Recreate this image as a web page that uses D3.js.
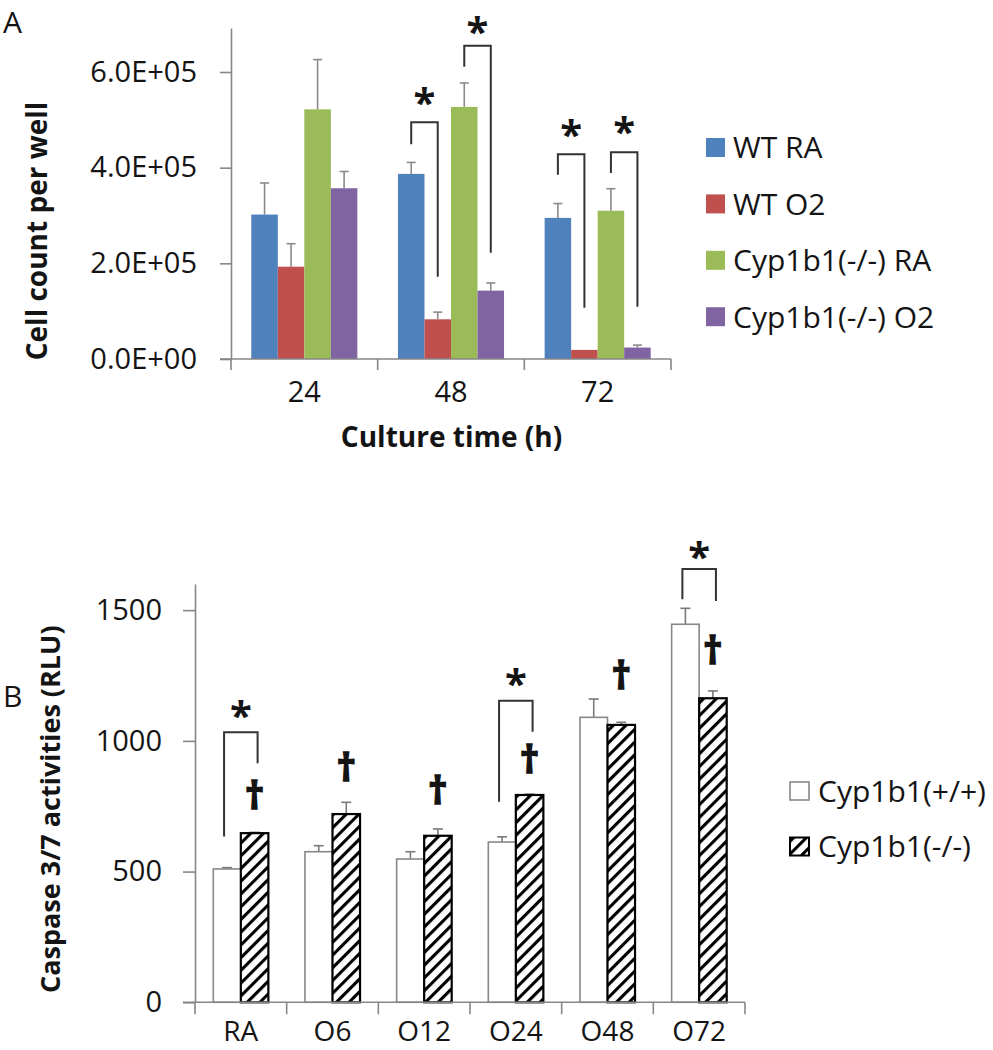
<!DOCTYPE html>
<html><head><meta charset="utf-8">
<script src="https://cdn.jsdelivr.net/npm/d3@7"></script>
<style>
body{margin:0;background:#fff}
svg{display:block}
text{font-family:"Open Sans",sans-serif;fill:#141414}
</style>
</head><body>
<svg id="c" width="993" height="1050"></svg>
<script>
// ---------- Panel A data ----------
const timesA = ["24", "48", "72"];
const seriesA = ["WT RA", "WT O2", "Cyp1b1(-/-) RA", "Cyp1b1(-/-) O2"];
const wtRA = [3.02e5, 3.87e5, 2.95e5];
const wtRAerr = [0.66e5, 0.24e5, 0.30e5];
const wtO2 = [1.93e5, 0.83e5, 0.19e5];
const wtO2err = [0.48e5, 0.15e5, 0.0];
const koRA = [5.22e5, 5.27e5, 3.10e5];
const koRAerr = [1.04e5, 0.50e5, 0.46e5];
const koO2 = [3.57e5, 1.43e5, 0.24e5];
const koO2err = [0.35e5, 0.16e5, 0.05e5];
const ticksA = [0, 2e5, 4e5, 6e5];
const tickLabelsA = ["0.0E+00", "2.0E+05", "4.0E+05", "6.0E+05"];
const colorsA = ["#4F81BD", "#C0504D", "#9BBB59", "#8064A2"];
// significance brackets (category, left series, right series, top, left leg end, right leg end, star level)
const bracketCatA = ["48", "48", "72", "72"];
const bracketLeftA = [0, 2, 0, 2];
const bracketRightA = [1, 3, 1, 3];
const bracketTopA = [4.95e5, 6.55e5, 4.28e5, 4.32e5];
const bracketLeftEndA = [4.49e5, 6.11e5, 3.85e5, 3.89e5];
const bracketRightEndA = [1.72e5, 2.22e5, 1.07e5, 1.09e5];
const starLevelA = [5.45e5, 6.94e5, 4.79e5, 4.85e5];

// ---------- Panel B data ----------
const groupsB = ["RA", "O6", "O12", "O24", "O48", "O72"];
const seriesB = ["Cyp1b1(+/+)", "Cyp1b1(-/-)"];
const wtB = [510, 576, 548, 613, 1090, 1446];
const wtBerr = [5, 23, 28, 20, 70, 61];
const koB = [647, 720, 637, 793, 1061, 1163];
const koBerr = [3, 45, 26, 3, 10, 28];
const ticksB = [0, 500, 1000, 1500];
const tickLabelsB = ["0", "500", "1000", "1500"];
const bracketCatB = ["RA", "O24", "O72"];
const bracketTopB = [1033, 1153, 1657];
const bracketLeftEndB = [634, 767, 1542];
const bracketRightEndB = [914, 1035, 1535];
const starLevelB = [1116, 1236, 1724];
const daggerLevelB = [782, 889, 801, 921, 1240, 1335];

const svg = d3.select("#c");
const AX = "#868686";

// ---------- Panel A ----------
{
  const yA = d3.scaleLinear().domain([0, 6.92e5]).range([359, 28]);
  const x0 = d3.scaleBand().domain(timesA).range([231, 671]).padding(0);
  const bw = x0.bandwidth();
  const x1 = d3.scaleBand().domain(d3.range(4)).range([20.3, bw - 20.3]).padding(0);
  const vals = [wtRA, wtO2, koRA, koO2];
  const errs = [wtRAerr, wtO2err, koRAerr, koO2err];
  const g = svg.append("g");

  const bars = [];
  timesA.forEach((t, i) => vals.forEach((v, s) => bars.push({t, s, v: v[i], e: errs[s][i]})));

  const eb = g.append("g").attr("stroke", "#8a8a8a").attr("stroke-width", 1.6);
  bars.filter(d => d.e > 0).forEach(d => {
    const cx = x0(d.t) + x1(d.s) + x1.bandwidth() / 2;
    eb.append("line").attr("x1", cx).attr("x2", cx).attr("y1", yA(d.v)).attr("y2", yA(d.v + d.e));
    eb.append("line").attr("x1", cx - 4.5).attr("x2", cx + 4.5).attr("y1", yA(d.v + d.e)).attr("y2", yA(d.v + d.e));
  });
  g.append("g").selectAll("rect").data(bars).join("rect")
    .attr("x", d => x0(d.t) + x1(d.s))
    .attr("width", x1.bandwidth())
    .attr("y", d => yA(d.v))
    .attr("height", d => yA(0) - yA(d.v))
    .attr("fill", d => colorsA[d.s]);

  const ya = g.append("g").attr("transform", "translate(231,0)")
    .call(d3.axisLeft(yA).tickValues(ticksA).tickFormat((d, i) => tickLabelsA[i]).tickSize(11).tickPadding(23).tickSizeOuter(0));
  ya.selectAll("path,line").attr("stroke", AX).attr("stroke-width", 1.6);
  ya.selectAll("text").attr("font-size", 29).attr("font-family", "Open Sans").attr("fill", "#141414");

  const xa = g.append("g").attr("transform", "translate(0,359)")
    .call(d3.axisBottom(x0).tickSize(0).tickPadding(22));
  xa.select(".domain").remove();
  xa.selectAll("text").attr("font-size", 29).attr("font-family", "Open Sans").attr("fill", "#141414");
  g.append("line").attr("x1", 220).attr("x2", x0.range()[1]).attr("y1", yA(0)).attr("y2", yA(0)).attr("stroke", AX).attr("stroke-width", 1.6);
  const bounds = timesA.map(t => x0(t)).concat([x0.range()[1]]);
  g.append("g").selectAll("line").data(bounds).join("line")
    .attr("x1", d => d).attr("x2", d => d).attr("y1", yA(0)).attr("y2", yA(0) + 11)
    .attr("stroke", AX).attr("stroke-width", 1.6);

  const br = g.append("g").attr("stroke", "#333").attr("stroke-width", 2).attr("fill", "none");
  bracketCatA.forEach((c, i) => {
    const xl = x0(c) + x1(bracketLeftA[i]) + x1.bandwidth() / 2;
    const xr = x0(c) + x1(bracketRightA[i]) + x1.bandwidth() / 2;
    br.append("path").attr("d", `M${xl},${yA(bracketLeftEndA[i])}V${yA(bracketTopA[i])}H${xr}V${yA(bracketRightEndA[i])}`);
    g.append("text").attr("x", (xl + xr) / 2).attr("y", yA(starLevelA[i]) + 19)
      .attr("text-anchor", "middle").attr("font-size", 40).attr("font-weight", "bold").text("*");
  });

  g.append("text").attr("transform", "translate(47,231) rotate(-90)").attr("text-anchor", "middle")
    .attr("font-size", 28).attr("font-weight", "bold").text("Cell count per well");
  g.append("text").attr("x", 451.5).attr("y", 447).attr("text-anchor", "middle")
    .attr("font-size", 28).attr("font-weight", "bold").text("Culture time (h)");

  const lg = g.append("g");
  seriesA.forEach((s, i) => {
    const cy = 147.5 + i * 56.4;
    lg.append("rect").attr("x", 706).attr("y", cy - 9.5).attr("width", 19).attr("height", 19).attr("fill", colorsA[i]);
    lg.append("text").attr("x", 733).attr("y", cy).attr("dy", "0.36em").attr("font-size", 30).text(s);
  });

  svg.append("text").attr("x", 3).attr("y", 33).attr("font-size", 30).text("A");
}

// ---------- Panel B ----------
{
  const defs = svg.append("defs");
  const pat = defs.append("pattern").attr("id", "hatch").attr("patternUnits", "userSpaceOnUse")
    .attr("width", 9).attr("height", 9).attr("patternTransform", "rotate(45)");
  pat.append("rect").attr("width", 9).attr("height", 9).attr("fill", "#fff");
  pat.append("line").attr("x1", 1.5).attr("x2", 1.5).attr("y1", 0).attr("y2", 9).attr("stroke", "#000").attr("stroke-width", 3.2);

  const yB = d3.scaleLinear().domain([0, 1600]).range([1002.3, 584]);
  const x0 = d3.scaleBand().domain(groupsB).range([195, 745]).padding(0);
  const bw = x0.bandwidth();
  const x1 = d3.scaleBand().domain([0, 1]).range([18.3, bw - 18.3]).padding(0);
  const vals = [wtB, koB];
  const errs = [wtBerr, koBerr];
  const g = svg.append("g");
  const bars = [];
  groupsB.forEach((t, i) => vals.forEach((v, s) => bars.push({t, s, v: v[i], e: errs[s][i]})));

  const eb = g.append("g").attr("stroke", "#7a7a7a").attr("stroke-width", 1.6);
  bars.forEach(d => {
    const cx = x0(d.t) + x1(d.s) + x1.bandwidth() / 2;
    eb.append("line").attr("x1", cx).attr("x2", cx).attr("y1", yB(d.v)).attr("y2", yB(d.v + d.e));
    eb.append("line").attr("x1", cx - 5).attr("x2", cx + 5).attr("y1", yB(d.v + d.e)).attr("y2", yB(d.v + d.e));
  });
  g.append("g").selectAll("rect").data(bars).join("rect")
    .attr("x", d => x0(d.t) + x1(d.s))
    .attr("width", x1.bandwidth())
    .attr("y", d => yB(d.v))
    .attr("height", d => yB(0) - yB(d.v))
    .attr("fill", d => d.s === 0 ? "#fff" : "url(#hatch)")
    .attr("stroke", d => d.s === 0 ? "#888" : "#000")
    .attr("stroke-width", d => d.s === 0 ? 1.6 : 2.2);

  const ya = g.append("g").attr("transform", "translate(195,0)")
    .call(d3.axisLeft(yB).tickValues(ticksB).tickFormat((d, i) => tickLabelsB[i]).tickSize(12).tickPadding(21).tickSizeOuter(0));
  ya.selectAll("path,line").attr("stroke", AX).attr("stroke-width", 1.6);
  ya.selectAll("text").attr("font-size", 29).attr("font-family", "Open Sans").attr("fill", "#141414");

  const xa = g.append("g").attr("transform", `translate(0,${yB(0)})`)
    .call(d3.axisBottom(x0).tickSize(0).tickPadding(19));
  xa.select(".domain").remove();
  xa.selectAll("text").attr("font-size", 28).attr("font-family", "Open Sans").attr("fill", "#141414");
  g.append("line").attr("x1", 183).attr("x2", x0.range()[1]).attr("y1", yB(0)).attr("y2", yB(0)).attr("stroke", AX).attr("stroke-width", 1.6);
  const bounds = groupsB.map(t => x0(t)).concat([x0.range()[1]]);
  g.append("g").selectAll("line").data(bounds).join("line")
    .attr("x1", d => d).attr("x2", d => d).attr("y1", yB(0)).attr("y2", yB(0) + 12)
    .attr("stroke", AX).attr("stroke-width", 1.6);

  const br = g.append("g").attr("stroke", "#333").attr("stroke-width", 2).attr("fill", "none");
  bracketCatB.forEach((c, i) => {
    const xl = x0(c) + x1(0) + x1.bandwidth() / 2 - 3;
    const xr = x0(c) + x1(1) + x1.bandwidth() / 2 + 3;
    br.append("path").attr("d", `M${xl},${yB(bracketLeftEndB[i])}V${yB(bracketTopB[i])}H${xr}V${yB(bracketRightEndB[i])}`);
    g.append("text").attr("x", (xl + xr) / 2).attr("y", yB(starLevelB[i]) + 19)
      .attr("text-anchor", "middle").attr("font-size", 40).attr("font-weight", "bold").text("*");
  });
  groupsB.forEach((c, i) => {
    const cx = x0(c) + x1(1) + x1.bandwidth() / 2;
    g.append("text").attr("x", cx).attr("y", yB(daggerLevelB[i]) + 11)
      .attr("text-anchor", "middle").attr("font-size", 38).attr("font-weight", "bold")
      .attr("stroke", "#141414").attr("stroke-width", 1.4).text("\u2020");
  });

  g.append("text").attr("transform", "translate(60,993) rotate(-90)").attr("text-anchor", "start")
    .attr("font-size", 27).attr("font-weight", "bold").text("Caspase 3/7 activities (RLU)");

  const lg = g.append("g");
  seriesB.forEach((s, i) => {
    const cy = 791 + i * 55.5;
    lg.append("rect").attr("x", 790).attr("y", cy - 9).attr("width", 19).attr("height", 18)
      .attr("fill", i === 0 ? "#fff" : "url(#hatch)").attr("stroke", i === 0 ? "#888" : "#000").attr("stroke-width", i === 0 ? 1.6 : 2);
    lg.append("text").attr("x", 818).attr("y", cy).attr("dy", "0.36em").attr("font-size", 30).text(s);
  });

  svg.append("text").attr("x", 3).attr("y", 707).attr("font-size", 30).text("B");
}
</script>
</body></html>
